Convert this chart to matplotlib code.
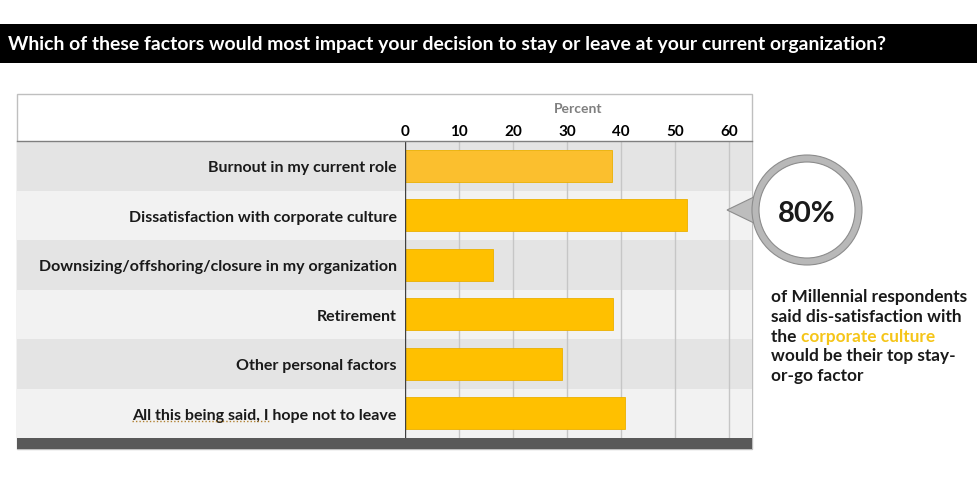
import matplotlib.pyplot as plt
from matplotlib.patches import Rectangle, Circle, Polygon
from matplotlib.lines import Line2D
from matplotlib.transforms import blended_transform_factory

W, H = 978, 481

title = "Which of these factors would most impact your decision to stay or leave at your current organization?"
factors = [
    "Burnout in my current role",
    "Dissatisfaction with corporate culture",
    "Downsizing/offshoring/closure in my organization",
    "Retirement",
    "Other personal factors",
    "All this being said, I hope not to leave",
]
percent = [38.3, 52.2, 16.3, 38.5, 29.1, 40.7]
bar_colors = ["#FBBF2E", "#FFC000", "#FFC000", "#FFC000", "#FFC000", "#FFC000"]
ticks = [0, 10, 20, 30, 40, 50, 60]
callout_value = "80%"
callout_lines = ["of Millennial respondents", "said dis-satisfaction with",
                 None, "would be their top stay-", "or-go factor"]

FONT = "Lato"


def fx(px):
    return px / W


def fy(py):
    return 1 - py / H


fig = plt.figure(figsize=(W / 100, H / 100), dpi=100)
fig.patch.set_facecolor("white")

# title bar
fig.patches.append(Rectangle((0, fy(64)), 1, fy(25) - fy(64), transform=fig.transFigure,
                             facecolor="black", edgecolor="none", zorder=-1))
fig.text(fx(8), fy(45), title, color="white", fontsize=13.95, fontweight="bold",
         family=FONT, va="center", ha="left")

# chart box (behind the axes)
fig.patches.append(Rectangle((fx(17), fy(450)), fx(752) - fx(17), fy(95) - fy(450),
                             transform=fig.transFigure, facecolor="white",
                             edgecolor="#BFBFBF", lw=1, zorder=-2))

ax = fig.add_axes([fx(405), fy(439), fx(751) - fx(405), fy(142) - fy(439)])
ax.set_facecolor("none")
ax.set_xlim(0, 64)
ax.set_ylim(len(factors) - 0.5, -0.5)

# alternating row bands reaching the left edge of the box
bt = blended_transform_factory(fig.transFigure, ax.transData)
for i in range(len(factors)):
    c = "#E4E4E4" if i % 2 == 0 else "#F2F2F2"
    ax.add_patch(Rectangle((fx(17), i - 0.5), fx(752) - fx(17), 1, transform=bt,
                           facecolor=c, edgecolor="none", clip_on=False, zorder=0))

for t in ticks[1:]:
    ax.axvline(t, color="#C6C6C6", lw=1, zorder=1)
ax.axvline(0, color="#404040", lw=1, zorder=3)

ax.barh(range(len(factors)), percent, height=0.64, color=bar_colors,
        edgecolor="#EBB000", lw=0.6, zorder=2)

ax.xaxis.tick_top()
ax.xaxis.set_label_position("top")
ax.set_xticks(ticks)
ax.set_xticklabels([str(t) for t in ticks], fontsize=11, fontweight="bold", family=FONT)
ax.tick_params(axis="x", length=0, pad=2.5)
ax.set_xlabel("Percent", fontsize=10, fontweight="bold", color="#7F7F7F", family=FONT,
              labelpad=8)
ax.set_yticks(range(len(factors)))
ax.set_yticklabels(factors, fontsize=11.5, fontweight="bold", family=FONT, color="#1A1A1A")
ax.tick_params(axis="y", length=0, pad=6)
for s in ax.spines.values():
    s.set_visible(False)

# header separator and dark footer
fig.lines.append(Line2D([fx(17), fx(752)], [fy(142), fy(142)], transform=fig.transFigure,
                        color="#7F7F7F", lw=1, zorder=4))
fig.patches.append(Rectangle((fx(17), fy(450)), fx(752) - fx(17), fy(439) - fy(450),
                             transform=fig.transFigure, facecolor="#595959",
                             edgecolor="none", zorder=4))

# callout bubble
cx, cy, r = 807, 211, 55
fig.patches.append(Polygon([(fx(727), fy(211)), (fx(756), fy(197)), (fx(756), fy(225))],
                           closed=True, transform=fig.transFigure, facecolor="#BDBDBD",
                           edgecolor="#8C8C8C", lw=0.8, zorder=5))
ax_c = fig.add_axes([fx(cx - r - 2), fy(cy + r + 2), fx(2 * r + 4), fy(0) - fy(2 * r + 4)])
ax_c.set_zorder(6)
ax_c.set_xlim(-r - 2, r + 2)
ax_c.set_ylim(-r - 2, r + 2)
ax_c.set_aspect("equal")
ax_c.axis("off")
ax_c.add_patch(Circle((0, 0), r, facecolor="#B8B8B8", edgecolor="#8C8C8C", lw=0.8))
ax_c.add_patch(Circle((0, 0), r - 7, facecolor="white", edgecolor="#8C8C8C", lw=0.8))
fig.text(fx(cx), fy(cy + 3), callout_value, fontsize=21, fontweight="bold", family=FONT,
         ha="center", va="center", color="#1A1A1A", zorder=7)

fig.canvas.draw()
rend = fig.canvas.get_renderer()

# callout text with highlighted words
CS = 12.4
for k, line in enumerate(callout_lines):
    y = fy(297 + k * 19.8)
    if line is not None:
        fig.text(fx(771), y, line, fontsize=CS, fontweight="bold", family=FONT,
                 va="center", ha="left", color="#1A1A1A")
    else:
        t1 = fig.text(fx(771), y, "the ", fontsize=CS, fontweight="bold", family=FONT,
                      va="center", ha="left", color="#1A1A1A")
        bb = t1.get_window_extent(rend)
        fig.text(bb.x1 / W, y, "corporate culture", fontsize=CS, fontweight="bold",
                 family=FONT, va="center", ha="left", color="#F5C518")

# dotted squiggle under "All this being said, I"
lab = ax.get_yticklabels()[-1]
lb = lab.get_window_extent(rend)
tmp = fig.text(0, 0, "All this being said, I", fontsize=11.5, fontweight="bold", family=FONT)
tw = tmp.get_window_extent(rend).width
tmp.remove()
fig.lines.append(Line2D([lb.x0 / W, (lb.x0 + tw) / W], [(lb.y0 + 1) / H] * 2,
                        transform=fig.transFigure, color="#B08030", lw=1,
                        linestyle=(0, (1, 1.5)), zorder=6))

fig.savefig("out.png", dpi=100)
